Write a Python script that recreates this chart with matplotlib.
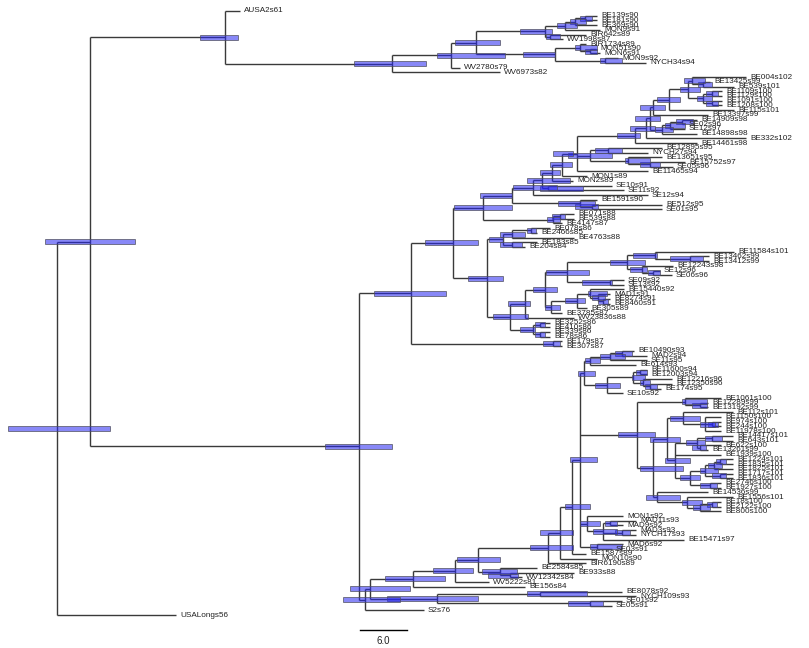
import matplotlib
matplotlib.use("Agg")
import matplotlib.pyplot as plt
from matplotlib.collections import LineCollection
from matplotlib.patches import Rectangle

# ---- tree data: Newick-like strings, "name:height" for tips,
# "(children):height[hpd_lo-hpd_hi]" for internal nodes (height = position on time axis)
TOP_T6 = "(((BE139s90:597,BE181s90:597):585[580-592],BE369s90:597):575[570-586],MON9s91:600):565[557-577]"
TOP_T7 = "(BIR642s89:586,WV1998s87:563):550[546-560]"
TOP_T8 = "(BIR1734s89:586,(MON51s90:596,MON6s91:600):590[585-597]):580[575-597]"
TOP_T9 = "(MON9s92:618,NYCH34s94:646):605[600-622]"
TOP_T3 = f"(({TOP_T6},{TOP_T7}):545[520-552],({TOP_T8},{TOP_T9}):555[523-555]):476[455-500]"
TOP_T1 = f"(({TOP_T3},WV2780s79:460):451[437-505],WV6973s82:500):392[354-426]"
TOP = f"(AUSA2s61:240,{TOP_T1}):225[200-238]"

A_NA = "(BE004s102:746,(BE13425s99:710,BE539s101:734):703[698-712]):692[684-705]"
A_NB = "((BE1109s100:722,BE1129s100:722):712[706-718],(BE1091s100:722,BE1208s100:722):712[706-718]):703[697-712]"
A_N669 = f"(({A_NA},{A_NB}):688[680-700],BE115s101:734):669[657-680]"
A_N653 = f"({A_N669},BE13397s99:708):653[640-665]"
A_N662 = "(((BE14909s98:697,SE02s96:685):682[676-693],SE12s97:685):670[665-685],BE14898s98:697):662[655-673]"
A_N635 = f"((({A_N653},{A_N662}):650[635-660],BE332s102:746):646[630-655],BE14461s98:697):635[617-640]"
A_NMID = "((BE12895s95:662,NYCH27s94:648):608[595-622],(BE13651s95:662,(BE15752s97:685,SE05s96:673):650[640-660]):628[625-650]):590[568-612]"
A_N577 = f"({A_N635},{A_NMID},BE11465s94:648):577[553-573]"
A_N533 = f"(((({A_N577},MON1s89:587):562[550-572],MON2s89:573):552[540-560],(SE10s91:612,SE11s92:624):548[540-583]):542[527-570],SE12s94:648):533[513-557]"
A_A19 = "(BE1591s90:597,(BE512s95:662,SE01s95:662):592[575-598]):580[558-595]"
A_A18 = "((BE071s88:574,BE539s88:574):560[552-565],BE4147s87:562):553[547-560]"
A_A2 = f"(({A_N533},{A_A19}):512[480-512],{A_A18}):483[454-512]"
A_A4 = "(((BE078s86:550,BE2466s85:537):531[527-536],BE4763s88:574):512[500-525],(BE183s85:537,BE204s84:525):512[500-522]):503[489-503]"
A_A11 = "((BE11584s101:734,(BE13462s99:709,BE13412s99:709):690[670-703]):655[633-657],(BE12243s98:673,(SE12s96:660,SE06s96:672):653[648-660]):642[630-647]):627[610-645]"
A_A12 = "(SE09s92:624,SE13s92:624):610[582-612]"
A_A14 = "(BE15440s92:624,(MAD1s91:610,(BE8274s91:610,BE8460s91:610):603[598-608]):598[592-605]):590[588-607]"
A_A8 = f"(({A_A11},{A_A12}):567[546-589],(({A_A14},BE305s89:587):577[565-585],BE3785s87:562):551[545-560]):545[533-557]"
A_A7 = "((BE3252s86:550,BE410s86:550):540[535-545],(BE339s86:550,BE78s86:550):540[535-545]):533[520-535]"
A_A5 = f"(({A_A8},WV23836s88:574):525[508-530],{A_A7}):510[493-528]"
A_A0 = f"(({A_A2},({A_A4},{A_A5}):487[468-503]):453[425-478],(BE179s87:562,BE307s87:562):553[543-560]):411[374-446]"

B_Q1 = ("((((BE10490s93:634,MAD2s94:647):622[615-632],SE11s95:647):610[600-625],BE614s93:636):590[585-600],"
        "(((BE11600s94:647,BE12003s94:647):640[636-647],(BE12216s96:672,(BE12350s96:672,BE174s95:661):650[645-657]):643[640-650]):633[632-645],"
        "SE10s92:623):607[595-620]):584[578-595]")
B_Q2A = "(BE1061s100:721,(BE12289s99:708,BE13192s99:708):700[692-707]):685[682-707]"
B_Q2B1 = "(BE112s101:733,(BE1150s100:721,(BE974s100:721,BE244s100:721):712[708-718],BE11978s100:721):705[700-715]):683[670-700]"
B_Q2B2A = "((BE14417s101:733,BE643s101:733):712[705-722],(BE622s100:721,BE13261s99:708):700[692-706]):697[686-705]"
B_NB1 = "(((BE1224s101:733,BE1835s101:733):720[716-726],BE1825s101:733):714[708-722],(BE1717s101:733,BE1836s101:733):720[712-726]):705[700-718]"
B_Q2B = f"({B_Q2B1},({B_Q2B2A},BE1939s100:721,({B_NB1},(BE2746s100:721,BE1927s100:721):710[700-717]):690[680-700]):675[665-690]):667[650-680]"
B_Q2C = "(BE14536s99:708,(BE1556s101:733,((BE18s100:721,BE2122s100:721):712[707-717],BE800s100:721):700[693-710]):687[682-702]):657[646-680]"
B_Q2 = f"({B_Q2A},({B_Q2B},{B_Q2C}):653[640-683]):637[618-655]"
B_Q3 = "(MON1s92:623,((MAD11s93:636,MAD9s92:623):610[605-617],(MAD3s93:636,NYCH17s93:636):622[615-630],BE15471s97:684):603[593-617]):587[580-600]"
B_Q4 = "(MAD6s92:623,SE03s91:612):597[590-622]"
B_C6 = f"(((({B_Q1},{B_Q2},{B_Q3},{B_Q4}):580[570-597],BE1587s89:586):572[565-590],MON10s90:597):560[540-573],BIR6190s89:586):548[530-573]"
B_C7 = "(BE2584s85:537,(BE933s88:574,WV12342s84:522):510[488-518]):500[482-517]"
B_C2 = f"((({B_C6},{B_C7}):478[457-500],WV5222s81:489):455[433-473],BE156s84:525):413[385-445]"
B_C3 = "((BE8078s92:622,NYCH109s93:636):540[527-587],(SE01s92:622,SE05s91:612):590[568-603]):437[387-478]"
B_C0 = f"(({B_C2},{B_C3}):370[350-410],S2s76:424):365[343-400]"

TREE = f"(({TOP},({A_A0},{B_C0}):359[325-392]):90[45-135],USALongs56:176):57[8-110]"

SCALE_LEN = 47      # axis units covered by the scale bar
SCALE_LABEL = "6.0"


def parse(s):
    pos = 0

    def node():
        nonlocal pos
        n = {"children": [], "name": None, "hpd": None}
        if s[pos] == "(":
            pos += 1
            while True:
                n["children"].append(node())
                if s[pos] == ",":
                    pos += 1
                    continue
                if s[pos] == ")":
                    pos += 1
                    break
        else:
            start = pos
            while s[pos] != ":":
                pos += 1
            n["name"] = s[start:pos]
        pos += 1  # ':'
        start = pos
        while pos < len(s) and (s[pos].isdigit() or s[pos] == "."):
            pos += 1
        n["x"] = float(s[start:pos])
        if pos < len(s) and s[pos] == "[":
            end = s.index("]", pos)
            lo, hi = s[pos + 1:end].split("-")
            n["hpd"] = (float(lo), float(hi))
            pos = end + 1
        return n

    return node()


root = parse(TREE)

tips = []


def layout(n):
    if not n["children"]:
        n["y"] = len(tips)
        tips.append(n)
    else:
        for c in n["children"]:
            layout(c)
        n["y"] = (n["children"][0]["y"] + n["children"][-1]["y"]) / 2.0


layout(root)

segs = []
bars = []


def collect(n):
    if n["children"]:
        segs.append([(n["x"], n["children"][0]["y"]), (n["x"], n["children"][-1]["y"])])
        for c in n["children"]:
            segs.append([(n["x"], c["y"]), (c["x"], c["y"])])
            collect(c)
        if n["hpd"]:
            bars.append((n["hpd"][0], n["hpd"][1], n["y"]))


collect(root)

fig = plt.figure(figsize=(8.09, 6.48), dpi=100)
ax = fig.add_axes([0, 0, 1, 1])
# pixel-like mapping: tip i at 11 + 4.72*i px
step = 4.72
ax.set_xlim(0, 809)
ax.set_ylim((648 - 11) / step, -11 / step)
ax.axis("off")

ax.add_collection(LineCollection(segs, colors="#3a3a3a", linewidths=1.0, capstyle="butt", zorder=1))

bh = 5.0 / step
for lo, hi, y in bars:
    ax.add_patch(Rectangle((lo, y - bh / 2), hi - lo, bh, facecolor=(0.15, 0.15, 0.95, 0.55),
                           edgecolor=(0.3, 0.3, 0.35, 0.7), linewidth=0.7, zorder=2))

for t in tips:
    ax.text(t["x"] + 4, t["y"], t["name"], fontsize=5.9, family=["Liberation Sans", "DejaVu Sans"],
            va="center", ha="left", color="#222222", zorder=3)

# scale bar
sx0 = 360
sy = (630 - 11) / step
ax.plot([sx0, sx0 + SCALE_LEN], [sy, sy], color="black", lw=1)
ax.text(sx0 + SCALE_LEN / 2, (641 - 11) / step, SCALE_LABEL, fontsize=7, family="Liberation Sans",
        ha="center", va="center", color="#222222")

fig.savefig("out.png", dpi=100)
